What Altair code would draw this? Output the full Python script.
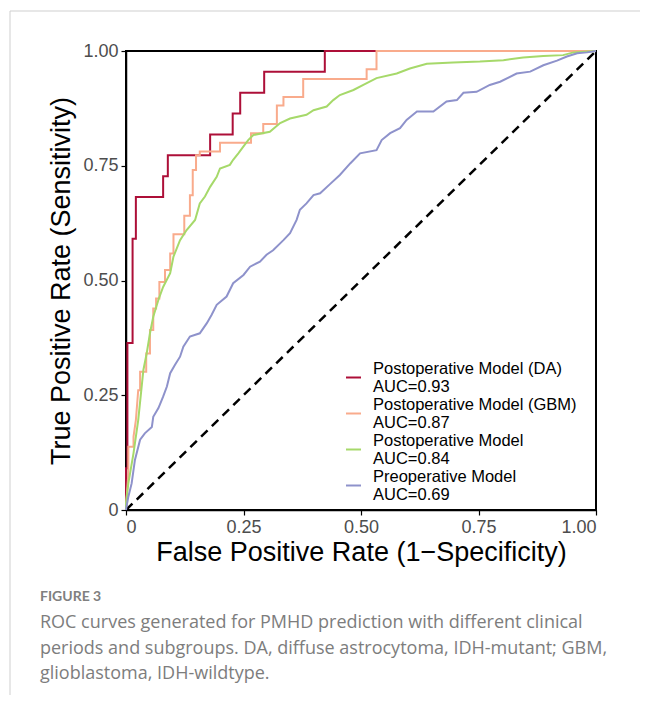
import altair as alt
import pandas as pd

# ---- data ----
models = ["Postoperative Model (DA)", "Postoperative Model (GBM)",
          "Postoperative Model", "Preoperative Model"]
aucs = ["0.93", "0.87", "0.84", "0.69"]
colors = ["#AD0F38", "#F9AB8C", "#A6D96A", "#8E92CB"]

da_fpr = [0, 0, 0.003, 0.003, 0.014, 0.014, 0.021, 0.021, 0.079, 0.079, 0.089, 0.089,
          0.179, 0.179, 0.227, 0.227, 0.243, 0.243, 0.294, 0.294, 0.423, 0.423, 1.0]
da_tpr = [0, 0.091, 0.091, 0.364, 0.364, 0.591, 0.591, 0.682, 0.682, 0.727, 0.727, 0.773,
          0.773, 0.818, 0.818, 0.864, 0.864, 0.909, 0.909, 0.955, 0.955, 1.0, 1.0]

gbm_fpr = [0, 0, 0.005, 0.005, 0.016, 0.016, 0.021, 0.026, 0.030, 0.030, 0.043, 0.043,
           0.051, 0.051, 0.058, 0.058, 0.064, 0.064, 0.071, 0.071, 0.083, 0.083, 0.094,
           0.094, 0.101, 0.101, 0.124, 0.124, 0.136, 0.136, 0.142, 0.142, 0.149, 0.149,
           0.157, 0.157, 0.200, 0.200, 0.266, 0.266, 0.292, 0.292, 0.321, 0.321, 0.335,
           0.335, 0.377, 0.377, 0.512, 0.512, 0.533, 0.533, 1.0]
gbm_tpr = [0, 0.007, 0.080, 0.138, 0.138, 0.160, 0.196, 0.261, 0.261, 0.301, 0.301, 0.341,
           0.341, 0.392, 0.392, 0.439, 0.439, 0.461, 0.461, 0.497, 0.497, 0.523, 0.523,
           0.559, 0.559, 0.601, 0.601, 0.641, 0.641, 0.686, 0.686, 0.741, 0.741, 0.773,
           0.773, 0.781, 0.781, 0.800, 0.800, 0.821, 0.821, 0.841, 0.841, 0.881, 0.881,
           0.900, 0.900, 0.939, 0.939, 0.960, 0.960, 1.0, 1.0]

post_fpr = [0, 0, 0.005, 0.016, 0.026, 0.037, 0.044, 0.051, 0.058, 0.069, 0.079, 0.094,
            0.101, 0.115, 0.129, 0.147, 0.157, 0.168, 0.179, 0.193, 0.200, 0.221, 0.228,
            0.239, 0.250, 0.260, 0.271, 0.306, 0.328, 0.349, 0.384, 0.399, 0.427, 0.441,
            0.455, 0.484, 0.505, 0.533, 0.576, 0.604, 0.640, 0.696, 0.753, 0.803, 0.845,
            0.888, 0.930, 0.952, 1.0]
post_tpr = [0, 0.015, 0.058, 0.124, 0.196, 0.305, 0.341, 0.385, 0.421, 0.458, 0.486, 0.516,
            0.552, 0.588, 0.610, 0.632, 0.668, 0.683, 0.704, 0.726, 0.744, 0.752, 0.763,
            0.777, 0.792, 0.806, 0.817, 0.824, 0.843, 0.853, 0.861, 0.871, 0.879, 0.893,
            0.904, 0.915, 0.926, 0.941, 0.951, 0.962, 0.972, 0.975, 0.977, 0.980, 0.986,
            0.989, 0.991, 0.997, 1.0]

pre_fpr = [0, 0.001, 0.005, 0.012, 0.019, 0.030, 0.040, 0.055, 0.058, 0.069, 0.079, 0.087,
           0.094, 0.104, 0.115, 0.122, 0.136, 0.157, 0.172, 0.182, 0.193, 0.214, 0.228,
           0.250, 0.264, 0.285, 0.299, 0.313, 0.335, 0.349, 0.363, 0.370, 0.384, 0.399,
           0.413, 0.434, 0.455, 0.477, 0.498, 0.533, 0.544, 0.562, 0.583, 0.597, 0.619,
           0.654, 0.682, 0.704, 0.718, 0.746, 0.774, 0.796, 0.831, 0.860, 0.888, 0.917,
           0.938, 0.960, 0.981, 1.0]
pre_tpr = [0, 0.007, 0.029, 0.058, 0.109, 0.153, 0.167, 0.181, 0.203, 0.222, 0.247, 0.269,
           0.298, 0.316, 0.334, 0.356, 0.378, 0.385, 0.407, 0.425, 0.447, 0.465, 0.494,
           0.512, 0.530, 0.541, 0.556, 0.566, 0.588, 0.603, 0.632, 0.654, 0.668, 0.686,
           0.690, 0.710, 0.730, 0.755, 0.777, 0.784, 0.806, 0.821, 0.832, 0.850, 0.868,
           0.868, 0.890, 0.893, 0.909, 0.911, 0.926, 0.933, 0.951, 0.955, 0.969, 0.979,
           0.988, 0.995, 0.997, 1.0]

ref_fpr = [0, 1]
ref_tpr = [0, 1]

x_ticks = [0, 0.25, 0.5, 0.75, 1.0]
y_ticks = [0, 0.25, 0.5, 0.75, 1.0]

caption_head = "FIGURE 3"
caption_lines = [
    "ROC curves generated for PMHD prediction with different clinical",
    "periods and subgroups. DA, diffuse astrocytoma, IDH-mutant; GBM,",
    "glioblastoma, IDH-wildtype.",
]

# ---- build table ----
labels = [f"{m}\nAUC={a}" for m, a in zip(models, aucs)]
series = [(da_fpr, da_tpr), (gbm_fpr, gbm_tpr), (post_fpr, post_tpr), (pre_fpr, pre_tpr)]
rows = []
for k, (lab, (fx, ty)) in enumerate(zip(labels, series)):
    for i, (a, b) in enumerate(zip(fx, ty)):
        rows.append({"model": lab, "fpr": a, "tpr": b, "idx": i, "k": k})
df = pd.DataFrame(rows)
ref = pd.DataFrame({"fpr": ref_fpr, "tpr": ref_tpr})

FONT = "Liberation Sans"

xenc = alt.X("fpr:Q", scale=alt.Scale(domain=[0, 1], nice=False, zero=False),
             axis=alt.Axis(values=x_ticks, title="False Positive Rate (1\u2212Specificity)",
                           labelExpr="datum.value === 0 ? '0' : format(datum.value, '.2f')"))
yenc = alt.Y("tpr:Q", scale=alt.Scale(domain=[0, 1], nice=False, zero=False),
             axis=alt.Axis(values=y_ticks, title="True Positive Rate (Sensitivity)",
                           labelExpr="datum.value === 0 ? '0' : format(datum.value, '.2f')"))

diag = alt.Chart(ref).mark_line(color="black", strokeWidth=2.5, strokeDash=[9, 6]).encode(
    x=xenc, y=yenc)

curves = alt.Chart(df).mark_line(strokeWidth=2).encode(
    x=xenc, y=yenc,
    color=alt.Color("model:N", sort=labels,
                    scale=alt.Scale(domain=labels, range=colors),
                    legend=alt.Legend(title=None, orient="none", legendX=219, legendY=318,
                                      symbolType="stroke", symbolSize=225,
                                      symbolStrokeWidth=2, labelFontSize=16.5,
                                      labelFont=FONT, labelColor="black",
                                      labelBaseline="line-bottom",
                                      labelExpr="split(datum.label, '\\n')",
                                      rowPadding=0, labelOffset=11, padding=0,
                                      labelLimit=300)),
    order=alt.Order("idx:Q"),
)

one = pd.DataFrame({"a": [0]})
border_top = alt.Chart(one).mark_rule(color="#CFCFCF", strokeWidth=1).encode(
    x=alt.value(-116), x2=alt.value(514), y=alt.value(-40))
border_left = alt.Chart(one).mark_rule(color="#CFCFCF", strokeWidth=1).encode(
    x=alt.value(-116), y=alt.value(-40), y2=alt.value(644))

cap_layers = [alt.Chart(one).mark_text(align="left", baseline="middle", font="Lato",
                                       fontSize=14, fontWeight="bold", color="#808080").encode(
    x=alt.value(-86), y=alt.value(546), text=alt.value(caption_head))]
for j, line in enumerate(caption_lines):
    cap_layers.append(alt.Chart(one).mark_text(align="left", baseline="middle",
                                               font="Open Sans", fontSize=18,
                                               color="#7D7D7D").encode(
        x=alt.value(-86), y=alt.value(572 + 25.5 * j), text=alt.value(line)))

chart = alt.layer(diag, curves, border_top, border_left, *cap_layers).properties(
    width=470, height=459,
    autosize=alt.AutoSizeParams(type="none"),
    padding={"left": 118, "top": 43, "right": 44, "bottom": 185},
    background="white",
).configure_view(stroke="black", strokeWidth=2).configure_axis(
    grid=False, domainColor="black", domainWidth=1.5, tickColor="black", tickSize=5,
    tickWidth=1.2, labelFont=FONT, labelFontSize=18, labelColor="#4D4D4D", labelPadding=3,
    titleFont=FONT, titleFontSize=27, titleFontWeight="normal", titleColor="black",
).configure_axisX(titlePadding=3).configure_axisY(titlePadding=7)

chart.save("out.html", embed_options={"renderer": "svg", "actions": False})
